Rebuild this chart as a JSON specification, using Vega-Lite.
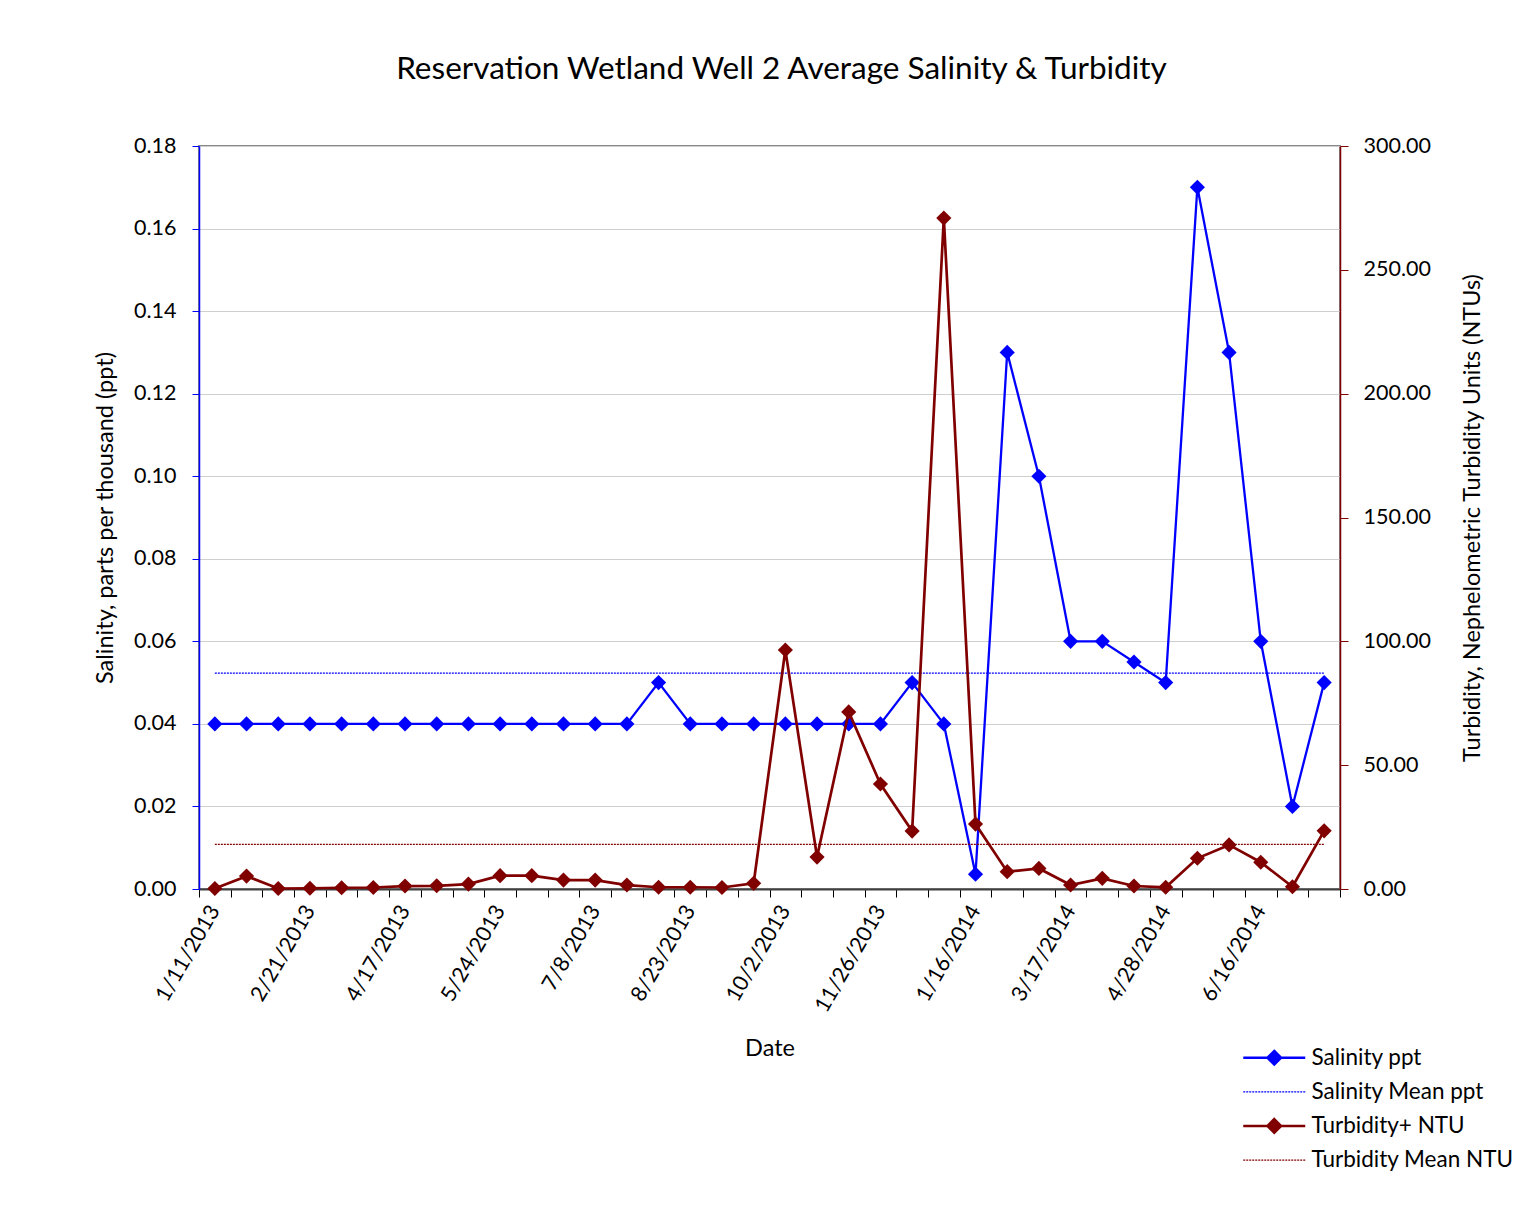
{
  "$schema": "https://vega.github.io/schema/vega-lite/v6.json",
  "width": 1141,
  "height": 743,
  "autosize": {"type": "none"},
  "padding": {"left": 199, "top": 146, "right": 193, "bottom": 332},
  "background": "white",
  "title": {
    "text": "Reservation Wetland Well 2 Average Salinity & Turbidity",
    "font": "Lato", "fontSize": 31.5, "fontWeight": "normal", "color": "black",
    "anchor": "middle", "frame": "group", "dx": 12, "offset": 25, "baseline": "alphabetic"
  },
  "config": {
    "font": "Lato",
    "view": {"stroke": "#888888", "strokeWidth": 2},
    "axis": {"labelColor": "black", "titleColor": "black", "titleFontWeight": "normal", "labelFont": "Lato", "titleFont": "Lato"}
  },
  "data": {
    "values": [
      {"date": "1/11/2013", "sal": 0.04, "turb": 0.2, "salMean": 0.0523, "turbMean": 18.0},
      {"date": "1/25/2013", "sal": 0.04, "turb": 5.2, "salMean": 0.0523, "turbMean": 18.0},
      {"date": "2/7/2013", "sal": 0.04, "turb": 0.2, "salMean": 0.0523, "turbMean": 18.0},
      {"date": "2/21/2013", "sal": 0.04, "turb": 0.3, "salMean": 0.0523, "turbMean": 18.0},
      {"date": "3/7/2013", "sal": 0.04, "turb": 0.5, "salMean": 0.0523, "turbMean": 18.0},
      {"date": "3/21/2013", "sal": 0.04, "turb": 0.6, "salMean": 0.0523, "turbMean": 18.0},
      {"date": "4/17/2013", "sal": 0.04, "turb": 1.2, "salMean": 0.0523, "turbMean": 18.0},
      {"date": "4/30/2013", "sal": 0.04, "turb": 1.3, "salMean": 0.0523, "turbMean": 18.0},
      {"date": "5/10/2013", "sal": 0.04, "turb": 2.0, "salMean": 0.0523, "turbMean": 18.0},
      {"date": "5/24/2013", "sal": 0.04, "turb": 5.4, "salMean": 0.0523, "turbMean": 18.0},
      {"date": "6/7/2013", "sal": 0.04, "turb": 5.4, "salMean": 0.0523, "turbMean": 18.0},
      {"date": "6/21/2013", "sal": 0.04, "turb": 3.6, "salMean": 0.0523, "turbMean": 18.0},
      {"date": "7/8/2013", "sal": 0.04, "turb": 3.6, "salMean": 0.0523, "turbMean": 18.0},
      {"date": "7/22/2013", "sal": 0.04, "turb": 1.6, "salMean": 0.0523, "turbMean": 18.0},
      {"date": "8/7/2013", "sal": 0.05, "turb": 0.7, "salMean": 0.0523, "turbMean": 18.0},
      {"date": "8/23/2013", "sal": 0.04, "turb": 0.7, "salMean": 0.0523, "turbMean": 18.0},
      {"date": "9/6/2013", "sal": 0.04, "turb": 0.6, "salMean": 0.0523, "turbMean": 18.0},
      {"date": "9/20/2013", "sal": 0.04, "turb": 2.3, "salMean": 0.0523, "turbMean": 18.0},
      {"date": "10/2/2013", "sal": 0.04, "turb": 96.5, "salMean": 0.0523, "turbMean": 18.0},
      {"date": "10/22/2013", "sal": 0.04, "turb": 12.9, "salMean": 0.0523, "turbMean": 18.0},
      {"date": "11/8/2013", "sal": 0.04, "turb": 71.5, "salMean": 0.0523, "turbMean": 18.0},
      {"date": "11/26/2013", "sal": 0.04, "turb": 42.4, "salMean": 0.0523, "turbMean": 18.0},
      {"date": "12/11/2013", "sal": 0.05, "turb": 23.4, "salMean": 0.0523, "turbMean": 18.0},
      {"date": "12/30/2013", "sal": 0.04, "turb": 270.9, "salMean": 0.0523, "turbMean": 18.0},
      {"date": "1/16/2014", "sal": 0.0036, "turb": 26.2, "salMean": 0.0523, "turbMean": 18.0},
      {"date": "1/31/2014", "sal": 0.13, "turb": 7.0, "salMean": 0.0523, "turbMean": 18.0},
      {"date": "2/20/2014", "sal": 0.10, "turb": 8.3, "salMean": 0.0523, "turbMean": 18.0},
      {"date": "3/17/2014", "sal": 0.06, "turb": 1.6, "salMean": 0.0523, "turbMean": 18.0},
      {"date": "3/31/2014", "sal": 0.06, "turb": 4.3, "salMean": 0.0523, "turbMean": 18.0},
      {"date": "4/14/2014", "sal": 0.055, "turb": 1.2, "salMean": 0.0523, "turbMean": 18.0},
      {"date": "4/28/2014", "sal": 0.05, "turb": 0.7, "salMean": 0.0523, "turbMean": 18.0},
      {"date": "5/14/2014", "sal": 0.17, "turb": 12.4, "salMean": 0.0523, "turbMean": 18.0},
      {"date": "5/30/2014", "sal": 0.13, "turb": 17.8, "salMean": 0.0523, "turbMean": 18.0},
      {"date": "6/16/2014", "sal": 0.06, "turb": 10.8, "salMean": 0.0523, "turbMean": 18.0},
      {"date": "6/30/2014", "sal": 0.02, "turb": 0.9, "salMean": 0.0523, "turbMean": 18.0},
      {"date": "7/14/2014", "sal": 0.05, "turb": 23.5, "salMean": 0.0523, "turbMean": 18.0}
    ]
  },
  "encoding": {
    "x": {
      "field": "date", "type": "ordinal", "sort": null,
      "scale": {"type": "band", "paddingInner": 0, "paddingOuter": 0},
      "axis": {
        "title": "Date", "titleFontSize": 23.5, "titlePadding": 21,
        "labelFontSize": 21.5, "labelAngle": -60, "labelAlign": "right", "labelBaseline": "middle",
        "labelPadding": 10, "labelOverlap": false,
        "labelExpr": "indexof(['1/11/2013','2/21/2013','4/17/2013','5/24/2013','7/8/2013','8/23/2013','10/2/2013','11/26/2013','1/16/2014','3/17/2014','4/28/2014','6/16/2014'], datum.value) >= 0 ? datum.value : ''",
        "tickBand": "extent", "tickSize": 8, "tickColor": "black", "tickWidth": 1,
        "domainColor": "#404040", "domainWidth": 2, "grid": false
      }
    }
  },
  "layer": [
    {
      "encoding": {
        "y": {
          "type": "quantitative",
          "scale": {"domain": [0, 0.18], "nice": false, "zero": true},
          "axis": {
            "orient": "left", "title": "Salinity, parts per thousand (ppt)", "titleFontSize": 23.5, "titlePadding": 16,
            "values": [0, 0.02, 0.04, 0.06, 0.08, 0.1, 0.12, 0.14, 0.16, 0.18], "format": ".2f",
            "labelFontSize": 21.5, "labelPadding": 16, "tickSize": 7, "tickColor": "#0000FF",
            "domainColor": "#0000FF", "domainWidth": 1.5, "grid": true, "gridColor": "#CFCFCF", "gridWidth": 1
          }
        }
      },
      "layer": [
        {
          "mark": {"type": "line", "strokeWidth": 1.3, "strokeDash": [2, 1]},
          "encoding": {
            "y": {"field": "salMean"},
            "color": {"datum": "Salinity Mean ppt"}
          }
        },
        {
          "mark": {"type": "line", "strokeWidth": 2.3, "point": {"shape": "diamond", "size": 230, "filled": true, "opacity": 1}},
          "encoding": {
            "y": {"field": "sal"},
            "color": {"datum": "Salinity ppt"}
          }
        }
      ]
    },
    {
      "encoding": {
        "y": {
          "type": "quantitative",
          "scale": {"domain": [0, 300], "nice": false},
          "axis": {
            "orient": "right", "title": "Turbidity, Nephelometric Turbidity Units (NTUs)", "titleFontSize": 23.5,
            "titleAngle": -90, "titleBaseline": "top", "titlePadding": 30,
            "values": [0, 50, 100, 150, 200, 250, 300], "format": ".2f",
            "labelFontSize": 21.5, "labelPadding": 15, "tickSize": 8, "tickColor": "#800000",
            "domainColor": "#800000", "domainWidth": 1.5, "grid": false
          }
        }
      },
      "layer": [
        {
          "mark": {"type": "line", "strokeWidth": 1.3, "strokeDash": [2, 1]},
          "encoding": {
            "y": {"field": "turbMean"},
            "color": {"datum": "Turbidity Mean NTU"}
          }
        },
        {
          "mark": {"type": "line", "strokeWidth": 2.7, "point": {"shape": "diamond", "size": 230, "filled": true, "opacity": 1}},
          "encoding": {
            "y": {"field": "turb"},
            "color": {
              "datum": "Turbidity+ NTU",
              "scale": {
                "domain": ["Salinity ppt", "Salinity Mean ppt", "Turbidity+ NTU", "Turbidity Mean NTU"],
                "range": ["#0000FF", "#0000FF", "#800000", "#800000"]
              },
              "legend": {
                "orient": "none", "legendX": 1064, "legendY": 900.5, "title": null,
                "labelFontSize": 22.5, "labelFont": "Lato", "labelColor": "black", "labelOffset": 26, "labelLimit": 400,
                "symbolSize": 3844, "rowPadding": 10.1, "symbolStrokeWidth": 2.5,
                "encode": {
                  "symbols": {
                    "update": {
                      "shape": {"signal": "(datum.value == 'Salinity ppt' || datum.value == 'Turbidity+ NTU') ? 'M-1,0L1,0M0,-0.22L0.22,0L0,0.22L-0.22,0Z' : 'M-1,0L1,0'"},
                      "strokeDash": {"signal": "(datum.value == 'Salinity ppt' || datum.value == 'Turbidity+ NTU') ? [] : [2, 1]"},
                      "strokeWidth": {"signal": "(datum.value == 'Salinity ppt' || datum.value == 'Turbidity+ NTU') ? 2.5 : 1.3"},
                      "fill": {"signal": "(datum.value == 'Salinity ppt' || datum.value == 'Salinity Mean ppt') ? '#0000FF' : '#800000'"},
                      "stroke": {"signal": "(datum.value == 'Salinity ppt' || datum.value == 'Salinity Mean ppt') ? '#0000FF' : '#800000'"},
                      "opacity": {"value": 1}
                    }
                  }
                }
              }
            }
          }
        }
      ]
    }
  ],
  "resolve": {"scale": {"y": "independent"}}
}
